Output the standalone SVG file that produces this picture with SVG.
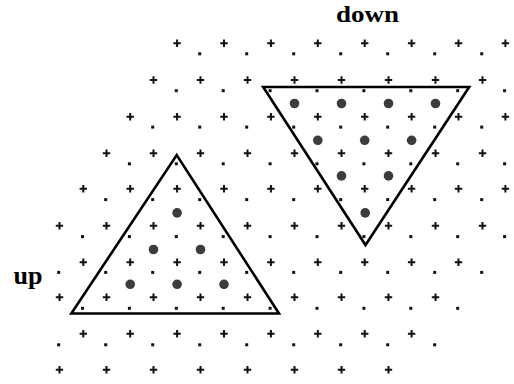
<svg xmlns="http://www.w3.org/2000/svg" width="514" height="384" viewBox="0 0 514 384">
<style>
.tri{fill:none;stroke:#000;stroke-width:2.6;stroke-linejoin:miter;stroke-miterlimit:10}
.lbl{font-family:"Liberation Serif","Times New Roman",serif;font-weight:bold;font-size:26px;fill:#000}
</style>
<defs>
<path id="p" d="M-3.7,0H3.7M0,-3.7V3.7" stroke="#111" stroke-width="2" fill="none"/>
<rect id="d" x="-1.5" y="-1.5" width="3" height="3" fill="#111"/>
<circle id="b" r="4.8" fill="#3c3c3c"/>
</defs>
<rect width="514" height="384" fill="#fff"/>
<g id="plus-sites">
<g transform="translate(0,43.3)"><use href="#p" x="177.1"/><use href="#p" x="224"/><use href="#p" x="270.9"/><use href="#p" x="317.8"/><use href="#p" x="364.7"/><use href="#p" x="411.6"/><use href="#p" x="458.5"/><use href="#p" x="505.4"/></g>
<g transform="translate(0,80)"><use href="#p" x="153.5"/><use href="#p" x="200.5"/><use href="#p" x="247.5"/><use href="#p" x="294.5"/><use href="#p" x="341.5"/><use href="#p" x="388.5"/><use href="#p" x="435.5"/><use href="#p" x="482.5"/></g>
<g transform="translate(0,116.7)"><use href="#p" x="130.2"/><use href="#p" x="177.1"/><use href="#p" x="224"/><use href="#p" x="270.9"/><use href="#p" x="317.8"/><use href="#p" x="364.7"/><use href="#p" x="411.6"/><use href="#p" x="458.5"/><use href="#p" x="505.4"/></g>
<g transform="translate(0,153.3)"><use href="#p" x="106.5"/><use href="#p" x="153.5"/><use href="#p" x="200.5"/><use href="#p" x="247.5"/><use href="#p" x="294.5"/><use href="#p" x="341.5"/><use href="#p" x="388.5"/><use href="#p" x="435.5"/><use href="#p" x="482.5"/></g>
<g transform="translate(0,188.7)"><use href="#p" x="83.3"/><use href="#p" x="130.2"/><use href="#p" x="177.1"/><use href="#p" x="224"/><use href="#p" x="270.9"/><use href="#p" x="317.8"/><use href="#p" x="364.7"/><use href="#p" x="411.6"/><use href="#p" x="458.5"/><use href="#p" x="505.4"/></g>
<g transform="translate(0,225.7)"><use href="#p" x="59.5"/><use href="#p" x="106.5"/><use href="#p" x="153.5"/><use href="#p" x="200.5"/><use href="#p" x="247.5"/><use href="#p" x="294.5"/><use href="#p" x="341.5"/><use href="#p" x="388.5"/><use href="#p" x="435.5"/><use href="#p" x="482.5"/></g>
<g transform="translate(0,262.3)"><use href="#p" x="83.3"/><use href="#p" x="130.2"/><use href="#p" x="177.1"/><use href="#p" x="224"/><use href="#p" x="270.9"/><use href="#p" x="317.8"/><use href="#p" x="364.7"/><use href="#p" x="411.6"/><use href="#p" x="458.5"/></g>
<g transform="translate(0,297.3)"><use href="#p" x="59.5"/><use href="#p" x="106.5"/><use href="#p" x="153.5"/><use href="#p" x="200.5"/><use href="#p" x="247.5"/><use href="#p" x="294.5"/><use href="#p" x="341.5"/><use href="#p" x="388.5"/><use href="#p" x="435.5"/></g>
<g transform="translate(0,333.7)"><use href="#p" x="83.3"/><use href="#p" x="130.2"/><use href="#p" x="177.1"/><use href="#p" x="224"/><use href="#p" x="270.9"/><use href="#p" x="317.8"/><use href="#p" x="364.7"/><use href="#p" x="411.6"/></g>
<g transform="translate(0,369.7)"><use href="#p" x="59.5"/><use href="#p" x="106.5"/><use href="#p" x="153.5"/><use href="#p" x="200.5"/><use href="#p" x="247.5"/><use href="#p" x="294.5"/><use href="#p" x="341.5"/><use href="#p" x="388.5"/></g>
</g>
<g id="dot-sites">
<g transform="translate(0,53.8)"><use href="#d" x="199.7"/><use href="#d" x="246.7"/><use href="#d" x="293.7"/><use href="#d" x="340.7"/><use href="#d" x="387.7"/><use href="#d" x="434.7"/><use href="#d" x="481.7"/></g>
<g transform="translate(0,90.7)"><use href="#d" x="176.3"/><use href="#d" x="223.2"/><use href="#d" x="270.1"/><use href="#d" x="317"/><use href="#d" x="363.9"/><use href="#d" x="410.8"/><use href="#d" x="457.7"/><use href="#d" x="504.6"/></g>
<g transform="translate(0,127.1)"><use href="#d" x="152.7"/><use href="#d" x="199.7"/><use href="#d" x="246.7"/><use href="#d" x="293.7"/><use href="#d" x="340.7"/><use href="#d" x="387.7"/><use href="#d" x="434.7"/><use href="#d" x="481.7"/></g>
<g transform="translate(0,163.8)"><use href="#d" x="129.4"/><use href="#d" x="176.3"/><use href="#d" x="223.2"/><use href="#d" x="270.1"/><use href="#d" x="317"/><use href="#d" x="363.9"/><use href="#d" x="410.8"/><use href="#d" x="457.7"/><use href="#d" x="504.6"/></g>
<g transform="translate(0,199.6)"><use href="#d" x="105.7"/><use href="#d" x="152.7"/><use href="#d" x="199.7"/><use href="#d" x="246.7"/><use href="#d" x="293.7"/><use href="#d" x="340.7"/><use href="#d" x="387.7"/><use href="#d" x="434.7"/><use href="#d" x="481.7"/></g>
<g transform="translate(0,236.6)"><use href="#d" x="82.5"/><use href="#d" x="129.4"/><use href="#d" x="176.3"/><use href="#d" x="223.2"/><use href="#d" x="270.1"/><use href="#d" x="317"/><use href="#d" x="363.9"/><use href="#d" x="410.8"/><use href="#d" x="457.7"/><use href="#d" x="504.6"/></g>
<g transform="translate(0,272.4)"><use href="#d" x="58.7"/><use href="#d" x="105.7"/><use href="#d" x="152.7"/><use href="#d" x="199.7"/><use href="#d" x="246.7"/><use href="#d" x="293.7"/><use href="#d" x="340.7"/><use href="#d" x="387.7"/><use href="#d" x="434.7"/><use href="#d" x="481.7"/></g>
<g transform="translate(0,308.3)"><use href="#d" x="82.5"/><use href="#d" x="129.4"/><use href="#d" x="176.3"/><use href="#d" x="223.2"/><use href="#d" x="270.1"/><use href="#d" x="317"/><use href="#d" x="363.9"/><use href="#d" x="410.8"/><use href="#d" x="457.7"/></g>
<g transform="translate(0,344.8)"><use href="#d" x="58.7"/><use href="#d" x="105.7"/><use href="#d" x="152.7"/><use href="#d" x="199.7"/><use href="#d" x="246.7"/><use href="#d" x="293.7"/><use href="#d" x="340.7"/><use href="#d" x="387.7"/><use href="#d" x="434.7"/></g>
</g>
<g id="down-occupied">
<use href="#b" x="294.5" y="103.5"/><use href="#b" x="341.5" y="103.5"/><use href="#b" x="388.5" y="103.5"/><use href="#b" x="435.5" y="103.5"/>
<use href="#b" x="317.8" y="140.3"/><use href="#b" x="364.7" y="140.3"/><use href="#b" x="411.6" y="140.3"/>
<use href="#b" x="341.5" y="175.9"/><use href="#b" x="388.5" y="175.9"/>
<use href="#b" x="365.2" y="212.9"/>
</g>
<g id="up-occupied">
<use href="#b" x="177.1" y="212.9"/>
<use href="#b" x="153.5" y="249.5"/><use href="#b" x="200.5" y="249.5"/>
<use href="#b" x="130.2" y="284.3"/><use href="#b" x="177.1" y="284.3"/><use href="#b" x="224" y="284.3"/>
</g>
<g id="up-triangle"><path class="tri" d="M71.3,313.5L176.7,155L279,313.5Z"/></g>
<g id="down-triangle"><path class="tri" d="M263.2,87H469.2L365.5,245Z"/></g>
<g id="labels">
<text class="lbl" x="367.5" y="21.5" text-anchor="middle" style="font-size:24px" textLength="63" lengthAdjust="spacingAndGlyphs">down</text>
<text class="lbl" x="13.5" y="283.5">up</text>
</g>
</svg>
